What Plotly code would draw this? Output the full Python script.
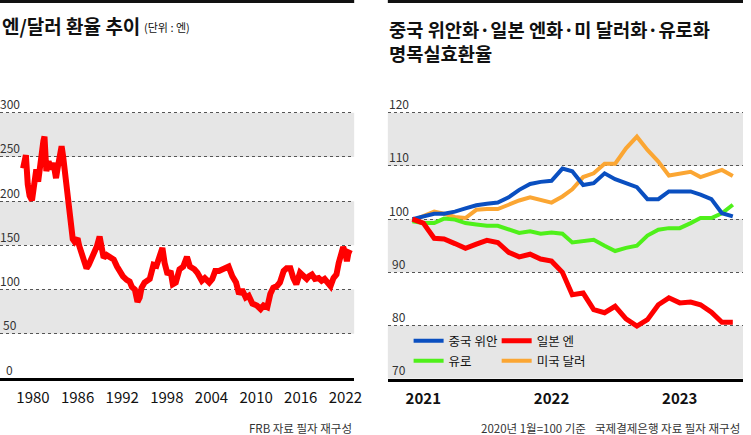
import plotly.graph_objects as go
import pandas as pd

FONT = "Noto Sans CJK KR"

# ---------------- Left chart: JPY per USD ----------------
jpy_usd_year = [
    1978.67, 1978.9, 1979.05, 1979.3, 1979.55, 1979.87, 1980.2, 1980.45, 1980.7, 1980.95,
    1981.15, 1981.4, 1981.55, 1981.8, 1982.1, 1982.45, 1982.75, 1983.1, 1983.35, 1983.85,
    1984.05, 1984.4, 1984.6, 1984.8, 1985.1, 1985.35, 1985.6, 1986.0, 1986.2, 1986.45,
    1986.75, 1987.2, 1987.5, 1987.85, 1988.2, 1988.6, 1988.96, 1989.2, 1989.5, 1989.9,
    1990.4, 1990.86, 1991.3, 1991.7, 1992.1, 1992.6, 1993.0, 1993.3, 1993.7, 1994.05,
    1994.35, 1994.6, 1995.0, 1995.7, 1996.2, 1996.6, 1997.1, 1997.4, 1997.7, 1998.1,
    1998.5, 1998.8, 1999.2, 1999.7, 2000.2, 2000.7, 2001.1, 2001.7, 2002.1, 2002.7,
    2003.1, 2003.7, 2004.1, 2004.5, 2005.0, 2005.7, 2006.3, 2006.8, 2007.3, 2007.7,
    2008.1, 2008.6, 2009.0, 2009.5, 2010.1, 2010.6, 2011.0, 2011.5, 2011.9, 2012.3,
    2012.8, 2013.2, 2013.7, 2014.1, 2014.6, 2015.0, 2015.4, 2015.9, 2016.4, 2016.8,
    2017.1, 2017.5, 2017.9, 2018.4, 2018.8, 2019.2, 2019.6, 2020.0, 2020.4, 2020.8,
    2021.1, 2021.4, 2021.7, 2022.0, 2022.2, 2022.4, 2022.6,
]
jpy_usd_rate = [
    237, 251, 252, 219, 206, 201, 221, 236, 222, 245,
    247, 268, 273, 234, 245, 236, 243, 226, 239, 262,
    251, 224, 201, 190, 167, 157, 154, 158, 150, 143,
    132, 124, 128, 134, 143, 149, 160, 145, 136, 139,
    136, 134, 126, 120, 115, 111, 109, 103, 100, 86,
    91, 102, 108, 112, 128, 127, 141, 147, 130, 117,
    121, 106, 108, 123, 126, 137, 126, 123, 119, 110,
    113, 108, 112, 121, 121, 123, 126, 115, 108, 95,
    100, 91, 93, 84, 82, 78, 82, 80, 95, 102,
    104, 108, 121, 124, 124, 113, 106, 119, 115, 112,
    115, 117, 112, 113, 110, 112, 108, 104, 113, 117,
    130, 141, 148, 141, 132, 141, 145,
]
left_xtick_years = [1980, 1986, 1992, 1998, 2004, 2010, 2016, 2022]
left_ytick_values = [0, 50, 100, 150, 200, 250, 300]

# ---------------- Right chart: nominal effective exchange rates ----------------
neer_first_month = "2020-12-01"
neer_cny = [100, 100.5, 101, 101, 101.4, 102, 102.6, 102.9, 103.1, 104.1,
            105.5, 106.6, 107, 107.2, 109.5, 109, 106.4, 106.75, 108.6, 107.5,
            106.75, 106, 103.75, 103.75, 105.2, 105.2, 105.2, 104.6, 103.75, 101.1,
            100.5]
neer_jpy = [100, 99.25, 96.4, 96.25, 95.4, 94.5, 95.3, 96, 95.6, 93.75,
            92.9, 93.4, 92.5, 92.1, 90, 85.8, 86.1, 83, 82.4, 83.6,
            81.25, 79.9, 81.1, 83.9, 85.2, 84.25, 84.4, 83.9, 82.5, 80.6,
            80.6]
neer_eur = [99.6, 99.25, 99.25, 100.1, 99.9, 99.25, 99, 98.75, 98.75, 98,
            97.4, 97.7, 97.25, 97.5, 97.25, 95.6, 95.8, 96.1, 95, 94,
            94.6, 95, 96.9, 98, 98.3, 98.3, 99.25, 100.2, 100.2, 101.1,
            102.7]
neer_usd = [99.7, 100.5, 101.4, 101, 100.4, 100.2, 101.75, 101.9, 101.9, 102.7,
            103.5, 104.1, 103.6, 103.1, 104.25, 105.6, 107.9, 108.6, 110.4, 110.4,
            113.3, 115.5, 113, 110.8, 108.2, 108.6, 108.9, 107.9, 108.5, 109.25,
            108.1]
series_names = ["중국 위안", "일본 엔", "유로", "미국 달러"]
right_xtick_dates = ["2021-01-01", "2022-01-01", "2023-01-01"]
right_xtick_labels = ["2021", "2022", "2023"]
right_ytick_values = [70, 80, 90, 100, 110, 120]

months = pd.date_range(neer_first_month, periods=len(neer_cny), freq="MS")

W, H = 751, 435
BAND = "#e6e6e6"
GRID = "#555555"
TOP_PX = 90  # top of plot areas (blank above the last band)

fig = go.Figure()

fig.add_trace(go.Scatter(
    x=jpy_usd_year, y=jpy_usd_rate, mode="lines",
    line=dict(color="#ff0000", width=6), showlegend=False,
    xaxis="x", yaxis="y",
))

series = [
    (series_names[3], neer_usd, "#fba633", 4, "legend4"),
    (series_names[2], neer_eur, "#4ff01a", 4, "legend3"),
    (series_names[0], neer_cny, "#0a4fc0", 4, "legend"),
    (series_names[1], neer_jpy, "#ff0000", 5, "legend2"),
]
for name, vals, color, w, leg in series:
    fig.add_trace(go.Scatter(
        x=months, y=vals, mode="lines", name=name,
        line=dict(color=color, width=w), legend=leg,
        xaxis="x2", yaxis="y2",
    ))

# pixel geometry of the value axes
left_px_per_unit = (378 - 112.7) / 300
right_px_per_unit = (378.7 - 112.7) / 50
left_range = [0, (378 - TOP_PX) / left_px_per_unit]
right_range = [70, 70 + (378.7 - TOP_PX) / right_px_per_unit]

shapes = []
for i in range(1, len(left_ytick_values) - 1, 2):
    shapes.append(dict(type="rect", xref="x domain", yref="y", x0=0, x1=1,
                       y0=left_ytick_values[i], y1=left_ytick_values[i + 1],
                       fillcolor=BAND, line_width=0, layer="below"))
for i in range(0, len(right_ytick_values) - 1, 2):
    shapes.append(dict(type="rect", xref="x2 domain", yref="y2", x0=0, x1=1,
                       y0=right_ytick_values[i], y1=right_ytick_values[i + 1],
                       fillcolor=BAND, line_width=0, layer="below"))
shapes.append(dict(type="rect", xref="paper", yref="paper", x0=0, x1=358 / W,
                   y0=1 - 3 / H, y1=1, fillcolor="#111111", line_width=0))
shapes.append(dict(type="rect", xref="paper", yref="paper", x0=392 / W, x1=1,
                   y0=1 - 3 / H, y1=1, fillcolor="#111111", line_width=0))

TITLE_FONT = dict(size=19, color="#111111", family=FONT, weight=600)
NOTE_FONT = dict(size=11.5, color="#333333", family=FONT)
annotations = [
    dict(text="엔/달러 환율 추이", x=0, y=1 - 26 / H, xanchor="left", yanchor="middle",
         font=TITLE_FONT),
    dict(text="(단위 : 엔)", x=144 / W, y=1 - 27 / H, xanchor="left", yanchor="middle",
         font=dict(size=11, color="#111111", family=FONT)),
    dict(text="중국 위안화·일본 엔화·미 달러화·유로화<br>명목실효환율", x=391 / W, y=1 - 40 / H,
         xanchor="left", yanchor="middle", align="left",
         font=dict(size=18.7, color="#111111", family=FONT, weight=600)),
    dict(text="FRB 자료 필자 재구성", x=358 / W, y=1 - 428 / H, xanchor="right", yanchor="middle",
         font=NOTE_FONT),
    dict(text="2020년 1월=100 기준", x=484 / W, y=1 - 428 / H, xanchor="left", yanchor="middle",
         font=NOTE_FONT),
    dict(text="국제결제은행 자료 필자 재구성", x=750 / W, y=1 - 428 / H, xanchor="right", yanchor="middle",
         font=NOTE_FONT),
]
for a in annotations:
    a.update(xref="paper", yref="paper", showarrow=False)

# value-axis labels: centred just above each gridline
for v in left_ytick_values:
    annotations.append(dict(text=str(v), xref="paper", yref="y", x=10 / W, y=v,
                            xanchor="center", yanchor="middle", yshift=9, showarrow=False,
                            font=dict(size=12, color="#333333", family=FONT)))
for v in right_ytick_values:
    annotations.append(dict(text=str(v), xref="paper", yref="y2", x=403 / W, y=v,
                            xanchor="center", yanchor="middle", yshift=9, showarrow=False,
                            font=dict(size=12, color="#333333", family=FONT)))


def legend_at(px, py):
    return dict(x=px / W, y=1 - py / H, xanchor="left", yanchor="middle",
                orientation="h", bgcolor="rgba(0,0,0,0)", borderwidth=0,
                font=dict(size=12.5, color="#111111", family=FONT),
                itemwidth=30)


ytick_common = dict(
    showgrid=True, gridcolor=GRID, griddash="dot", gridwidth=1,
    zeroline=False, showline=False, ticks="", showticklabels=False,
)
xtick_common = dict(
    showgrid=False, zeroline=False, showline=True, linecolor="#000000", linewidth=3,
    ticks="", tickmode="array", ticklabelstandoff=4,
)

fig.update_layout(
    width=W, height=H,
    margin=dict(l=0, r=0, t=0, b=0),
    paper_bgcolor="white", plot_bgcolor="white",
    font=dict(family=FONT),
    shapes=shapes, annotations=annotations,
    xaxis=dict(domain=[0, 358 / W], range=[1975.57, 2023.18],
               tickvals=left_xtick_years, ticktext=[str(v) for v in left_xtick_years],
               tickfont=dict(size=15, color="#111111", family=FONT),
               anchor="y", **xtick_common),
    yaxis=dict(domain=[1 - 378 / H, 1 - TOP_PX / H], range=left_range,
               tickvals=left_ytick_values, anchor="x", **ytick_common),
    xaxis2=dict(domain=[392 / W, 1], range=["2020-09-22", "2023-06-30"], type="date",
                tickvals=right_xtick_dates, ticktext=right_xtick_labels,
                tickfont=dict(size=15, color="#111111", family=FONT, weight="bold"),
                anchor="y2", **xtick_common),
    yaxis2=dict(domain=[1 - 378.7 / H, 1 - TOP_PX / H], range=right_range,
                tickvals=right_ytick_values, anchor="x2", **ytick_common),
    legend=legend_at(413, 341),
    legend2=legend_at(502, 341),
    legend3=legend_at(413, 361),
    legend4=legend_at(502, 361),
)

fig.write_html("out.html", config={"displayModeBar": False},
               post_script="document.body.style.margin='0';")
